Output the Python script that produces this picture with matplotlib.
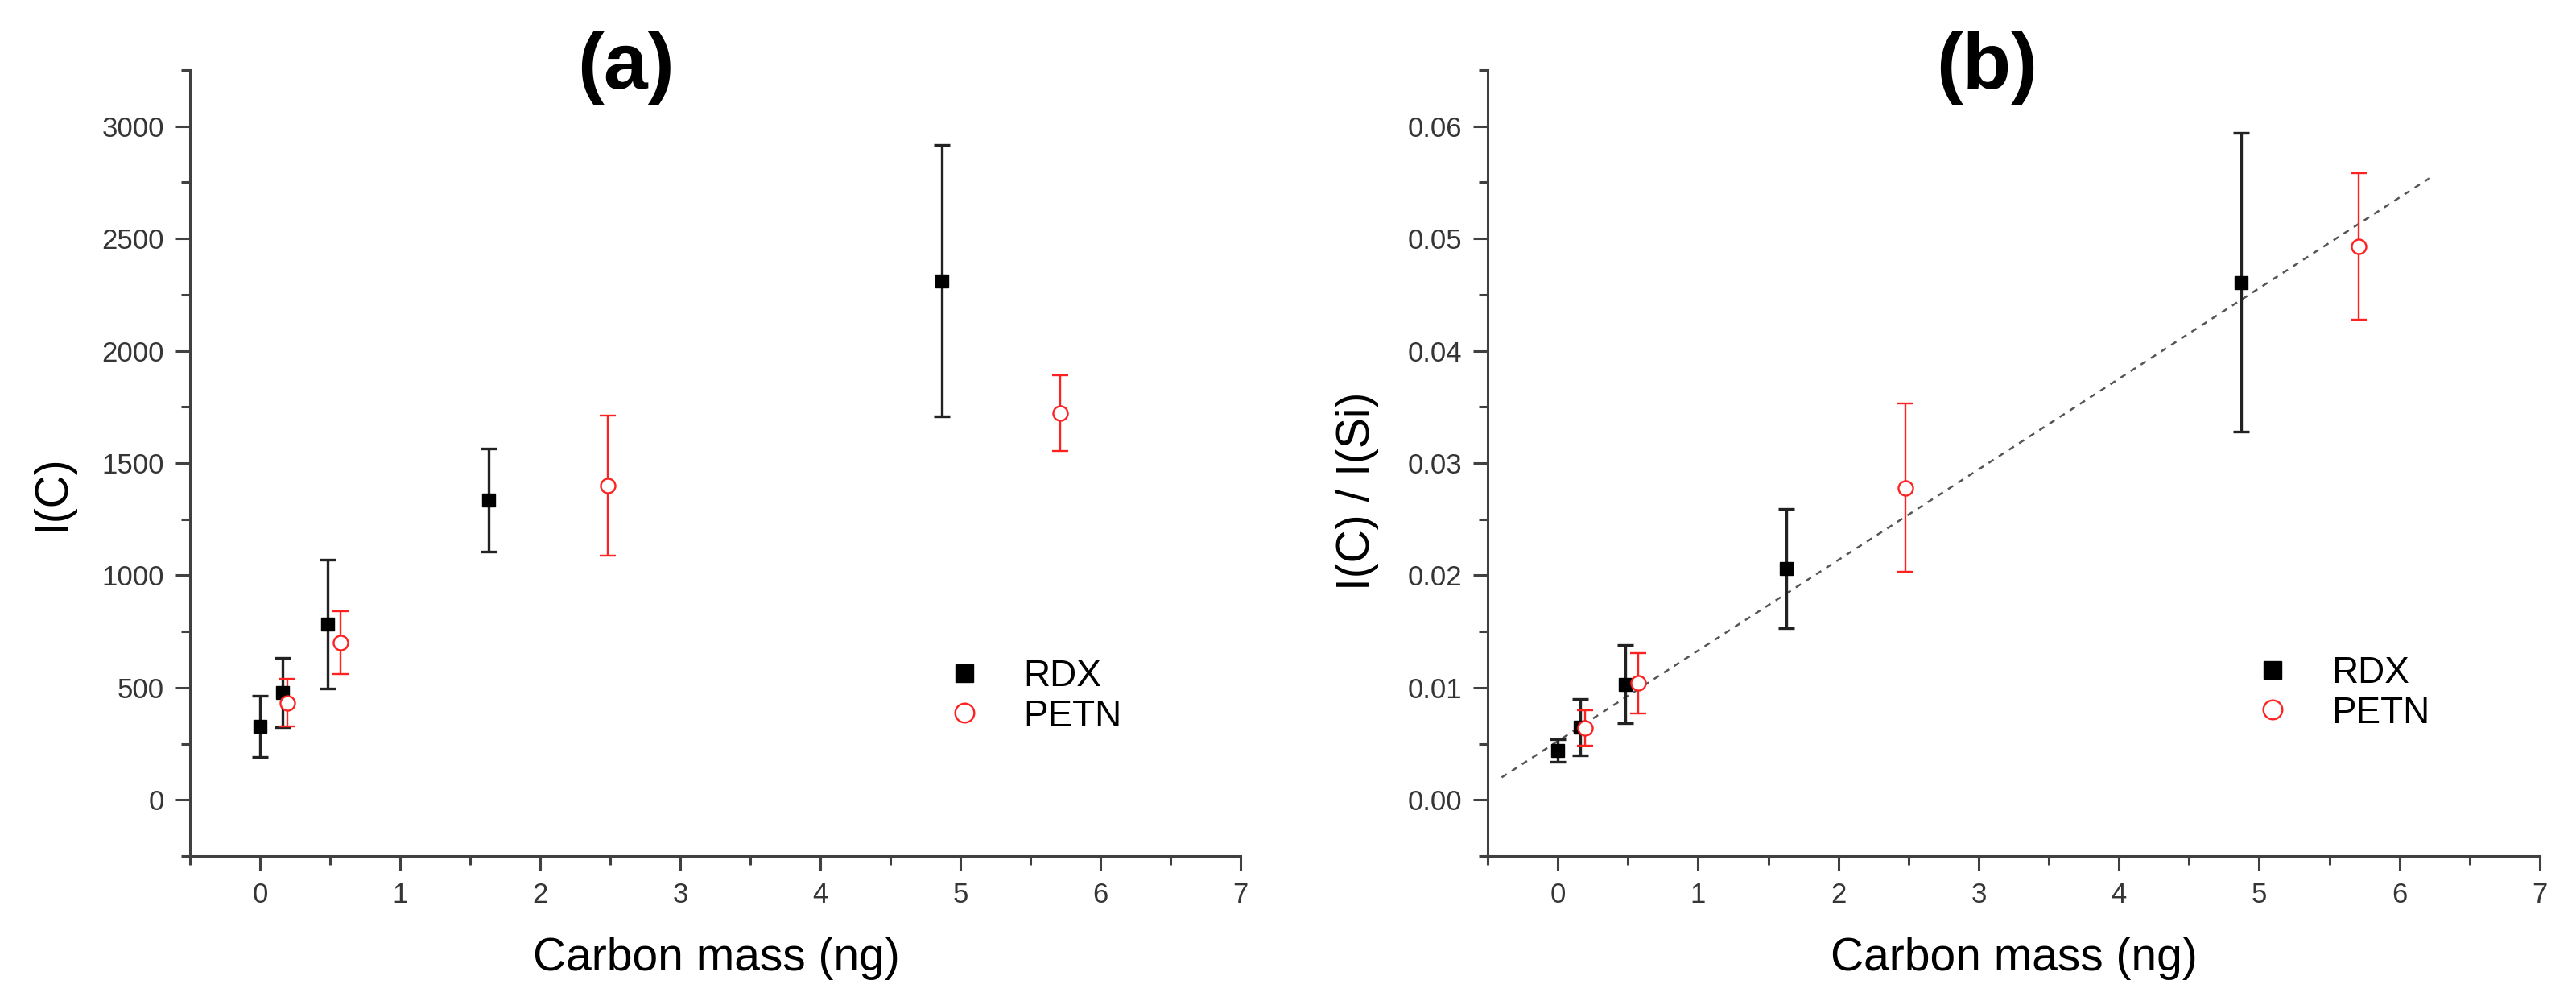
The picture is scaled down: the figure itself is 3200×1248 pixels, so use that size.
import matplotlib
matplotlib.use('Agg')
import matplotlib.pyplot as plt
from matplotlib.lines import Line2D
from matplotlib.ticker import MultipleLocator, FormatStrFormatter

plt.rcParams['font.family'] = ['Liberation Sans', 'DejaVu Sans']

# carbon mass (ng)
rdx_x = [0.0, 0.16, 0.48, 1.63, 4.87]
petn_x = [0.195, 0.575, 2.48, 5.71]

# panel (a): I(C)
rdx_ic = [327, 478, 782, 1336, 2312]
rdx_ic_err = [135, 153, 286, 229, 605]
petn_ic = [432, 701, 1399, 1722]
petn_ic_err = [106, 140, 313, 168]

# panel (b): I(C) / I(Si)
rdx_ratio = [0.0044, 0.0065, 0.0103, 0.0206, 0.0461]
rdx_ratio_err = [0.0010, 0.0025, 0.0035, 0.0053, 0.0133]
petn_ratio = [0.0064, 0.0104, 0.0278, 0.0493]
petn_ratio_err = [0.0016, 0.0027, 0.0075, 0.0065]

# dashed linear fit in (b), endpoints
fit_x = [-0.4, 6.23]
fit_y = [0.0020, 0.0555]

W, H = 3200, 1248
fig = plt.figure(figsize=(W / 100, H / 100), dpi=100)

axis_col = '#404040'
tick_col = '#353535'
red = '#ff2020'


def px_axes(x0, x1, ytop, ybot):
    return fig.add_axes([x0 / W, 1 - ybot / H, (x1 - x0) / W, (ybot - ytop) / H])


def style(ax):
    for s in ['top', 'right']:
        ax.spines[s].set_visible(False)
    for s in ['left', 'bottom']:
        ax.spines[s].set_color(axis_col)
        ax.spines[s].set_linewidth(2.2)
    ax.tick_params(which='major', direction='out', length=13, width=2.2,
                   color=axis_col, labelsize=25, labelcolor=tick_col, pad=10)
    ax.tick_params(which='minor', direction='out', length=8, width=2.2, color=axis_col)
    ax.set_xlim(-0.5, 7)
    ax.xaxis.set_major_locator(MultipleLocator(1))
    ax.xaxis.set_minor_locator(MultipleLocator(0.5))


def draw(ax, ry, rerr, py, perr):
    ax.errorbar(rdx_x, ry, yerr=rerr, fmt='s', color='black', ecolor='#222222',
                elinewidth=2.4, capsize=7, capthick=2.4, markersize=12,
                zorder=3)
    ax.errorbar(petn_x, py, yerr=perr, fmt='o', color=red, ecolor=red,
                elinewidth=1.7, capsize=7, capthick=1.9, markersize=13,
                markerfacecolor='white', markeredgewidth=1.7, zorder=3)


def legend(ax, x0, ytop):
    handles = [Line2D([], [], linestyle='none', marker='s', markersize=15.5,
                      color='black'),
               Line2D([], [], linestyle='none', marker='o', markersize=17,
                      markerfacecolor='white', markeredgecolor=red,
                      markeredgewidth=1.7)]
    ax.legend(handles, ['RDX', 'PETN'], loc='upper left',
              bbox_to_anchor=(x0 / W, 1 - ytop / H),
              bbox_transform=fig.transFigure, frameon=False, fontsize=33,
              handlelength=1.0, handletextpad=1.1, labelspacing=0.12,
              borderpad=0, borderaxespad=0)


# ---- (a)
ax1 = px_axes(236, 1541, 87, 1063)
style(ax1)
draw(ax1, rdx_ic, rdx_ic_err, petn_ic, petn_ic_err)
ax1.set_ylim(-250, 3250)
ax1.yaxis.set_major_locator(MultipleLocator(500))
ax1.yaxis.set_minor_locator(MultipleLocator(250))
legend(ax1, 1175, 818)

# ---- (b)
ax2 = px_axes(1848, 3155, 87, 1063)
style(ax2)
ax2.plot(fit_x, fit_y, linestyle=(0, (3, 3)), color='#555555', linewidth=1.8, zorder=2)
draw(ax2, rdx_ratio, rdx_ratio_err, petn_ratio, petn_ratio_err)
ax2.set_ylim(-0.005, 0.065)
ax2.yaxis.set_major_locator(MultipleLocator(0.01))
ax2.yaxis.set_minor_locator(MultipleLocator(0.005))
ax2.yaxis.set_major_formatter(FormatStrFormatter('%.2f'))
legend(ax2, 2800, 814)

# labels and panel letters
lab = 41
fig.text(890 / W, 1 - 1190 / H, 'Carbon mass (ng)', fontsize=lab, ha='center', va='center')
fig.text(2502 / W, 1 - 1190 / H, 'Carbon mass (ng)', fontsize=lab, ha='center', va='center')
fig.text(65 / W, 1 - 612 / H, 'I(C)', fontsize=lab, rotation=90, ha='center', va='center')
fig.text(1686 / W, 1 - 610 / H, 'I(C) / I(Si)', fontsize=lab, rotation=90, ha='center', va='center')
fig.text(777 / W, 1 - 85 / H, '(a)', fontsize=71, fontweight='bold', ha='center', va='center')
fig.text(2468 / W, 1 - 85 / H, '(b)', fontsize=71, fontweight='bold', ha='center', va='center')

fig.savefig('out.png', dpi=100, facecolor='white')
